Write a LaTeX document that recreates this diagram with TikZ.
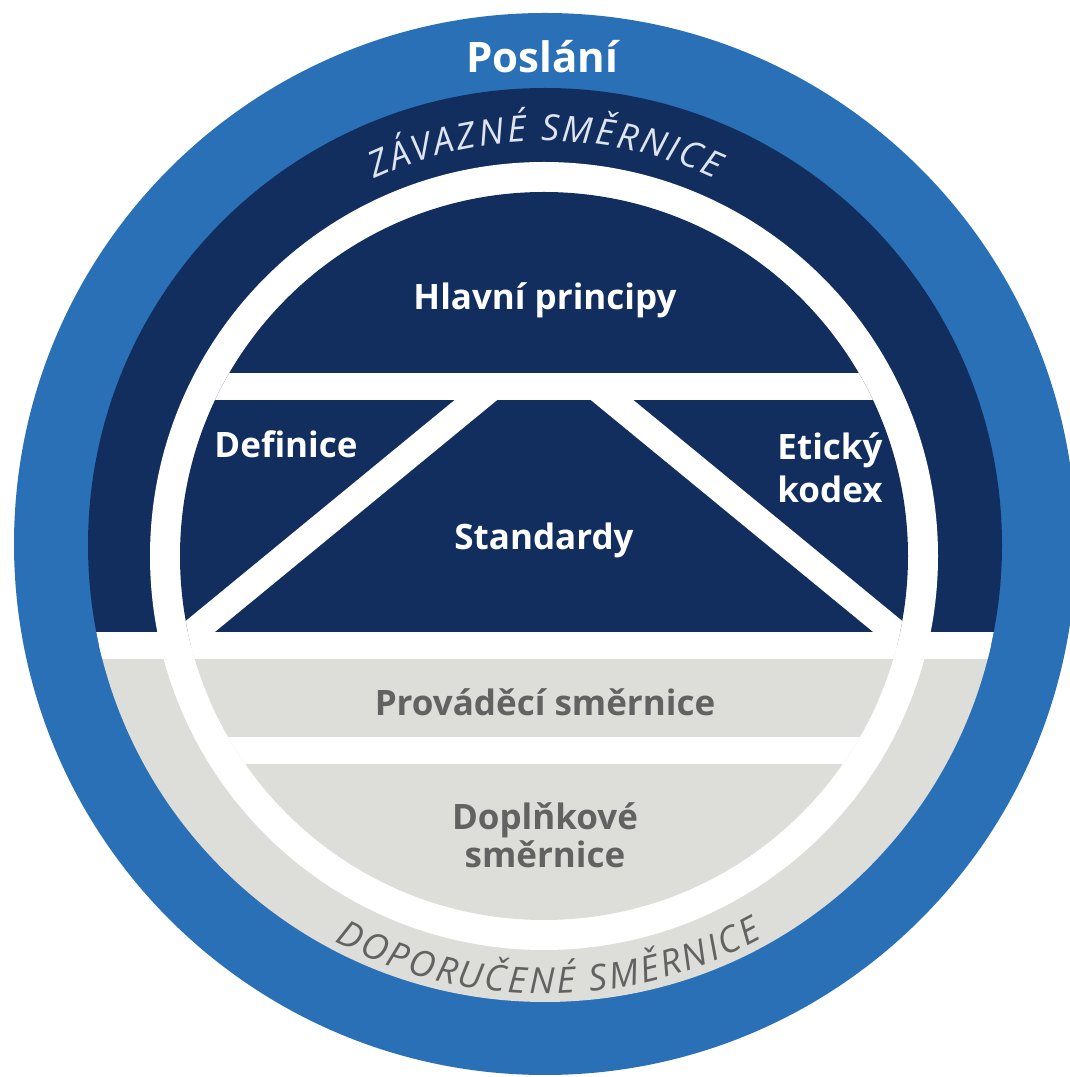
\documentclass[tikz,border=0pt]{standalone}
\usepackage{fontspec}
\setmainfont{Open Sans}
\usetikzlibrary{decorations.text}

\definecolor{poslblue}{RGB}{42,112,183}
\definecolor{navy}{RGB}{18,46,94}
\definecolor{palegrey}{RGB}{221,221,217}
\definecolor{labelgrey}{RGB}{98,98,98}
\definecolor{ringwhite}{RGB}{222,228,240}
\newcommand{\ringfont}{\fontsize{36}{42}\selectfont\itshape}

\begin{document}
\begin{tikzpicture}[x=1pt,y=1pt,
		band/.style={white,line width=27pt},
		darklabel/.style={white,font=\fontsize{35}{42}\selectfont\bfseries},
		greylabel/.style={labelgrey,font=\fontsize{35}{42}\selectfont\bfseries}]
				\useasboundingbox (0,0) rectangle (1070,1077);
				\clip (0,0) rectangle (1070,1077);
				\fill [white] (0,0) rectangle (1070,1077);
				\fill [poslblue] (545,533) circle (531);
				% ring
				\begin{scope}
					\clip (545,532) circle (457);
					\fill [palegrey] (0,0) rectangle (1070,431.5);
					\fill [navy] (0,431.5) rectangle (1070,1077);
					\draw [band] (0,431.5) -- (1070,431.5);
				\end{scope}
				\fill [white] (544,521) circle (394);
				% inner disc
				\begin{scope}
					\clip (544,521) circle (364);
					\fill [navy] (0,431.5) rectangle (1070,1077);
					\fill [palegrey] (0,0) rectangle (1070,431.5);
					\draw [band] (0,690.5) -- (1070,690.5);
					\draw [band] (0,431.5) -- (1070,431.5);
					\draw [band] (0,326) -- (1070,326);
					\draw [band] (492.4,690.5) -- (177.1,431.5);
					\draw [band] (595.6,690.5) -- (910.9,431.5);
				\end{scope}
				% ring texts
				\path [decorate,decoration={text along path,text align=fit to path,
					text={|\ringfont\color{ringwhite}|ZÁVAZNÉ SMĚRNICE}}]
					(545,532) ++(115:404) arc [start angle=115,end angle=65,radius=404];
				\path [decorate,decoration={text along path,text align=fit to path,
					text={|\ringfont\color{labelgrey}|DOPORUČENÉ SMĚRNICE}}]
					(545,532) ++(242:449) arc [start angle=242,end angle=299,radius=449];
				% labels
				\node [white,font=\fontsize{42}{50}\selectfont\bfseries,anchor=base] (poslani) at (542,1004) {Poslání};
				\node [darklabel,anchor=base] (hlavni) at (545,767) {Hlavní principy};
				\node [darklabel,anchor=base] (definice) at (286,619) {Definice};
				\node [darklabel,anchor=base] (standardy) at (544,527) {Standardy};
				\node [darklabel,anchor=base] (eticky) at (830,617) {Etický};
				\node [darklabel,anchor=base] (kodex) at (830,574) {kodex};
				\node [greylabel,anchor=base] (provadeci) at (545,361) {Prováděcí směrnice};
				\node [greylabel,anchor=base] (doplnkove) at (545,247) {Doplňkové};
				\node [greylabel,anchor=base] (smernice) at (545,209) {směrnice};
			\end{tikzpicture}
\end{document}
